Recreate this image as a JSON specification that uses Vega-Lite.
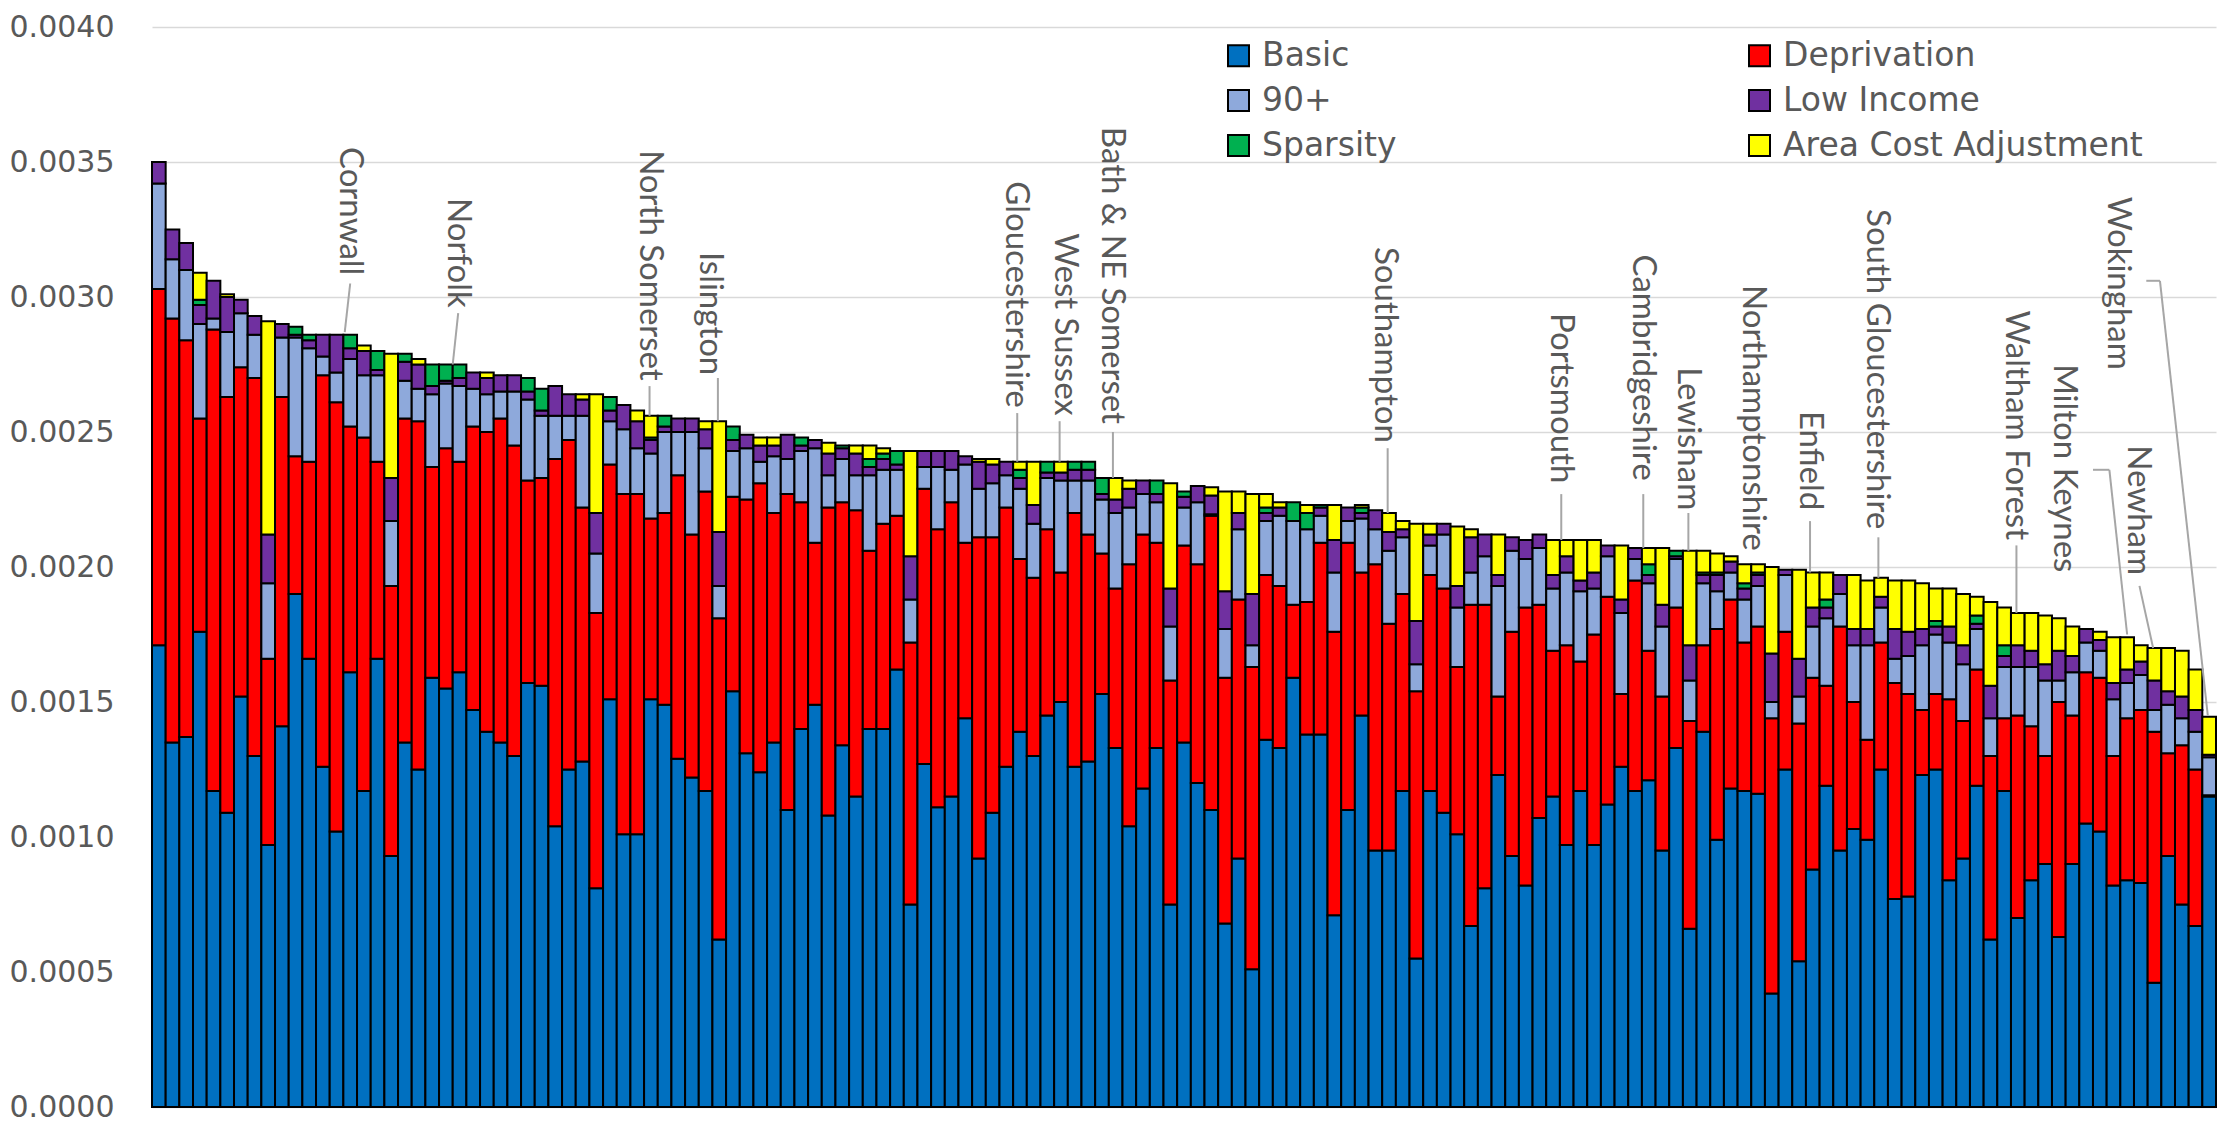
{
"$schema":"https://vega.github.io/schema/vega-lite/v6.json",
"width":2064,"height":1080,"autosize":{"type":"none"},
"padding":{"left":152,"top":27,"right":8,"bottom":22},
"background":"white",
"config":{"view":{"stroke":null},"font":"Lato"},
"datasets":{
"comp":[{"k":"b","o":1,"name":"Basic"},{"k":"d","o":2,"name":"Deprivation"},{"k":"n","o":3,"name":"90+"},{"k":"l","o":4,"name":"Low Income"},{"k":"s","o":5,"name":"Sparsity"},{"k":"a","o":6,"name":"Area Cost Adjustment"}],
"bars":[
{"i":1,"b":0.00171,"d":0.00132,"n":0.00039,"l":0.00008},
{"i":2,"b":0.00135,"d":0.00157,"n":0.00022,"l":0.00011},
{"i":3,"b":0.00137,"d":0.00147,"n":0.00026,"l":0.00010},
{"i":4,"b":0.00176,"d":0.00079,"n":0.00035,"l":0.00007,"s":0.00002,"a":0.00010},
{"i":5,"b":0.00117,"d":0.00171,"n":0.00004,"l":0.00014},
{"i":6,"b":0.00109,"d":0.00154,"n":0.00024,"l":0.00013,"a":0.00001},
{"i":7,"b":0.00152,"d":0.00122,"n":0.00020,"l":0.00005},
{"i":8,"b":0.00130,"d":0.00140,"n":0.00016,"l":0.00007},
{"i":9,"b":0.00097,"d":0.00069,"n":0.00028,"l":0.00018,"a":0.00079},
{"i":10,"b":0.00141,"d":0.00122,"n":0.00022,"l":0.00005},
{"i":11,"b":0.00190,"d":0.00051,"n":0.00044,"l":0.00001,"s":0.00003},
{"i":12,"b":0.00166,"d":0.00073,"n":0.00042,"l":0.00003,"s":0.00002},
{"i":13,"b":0.00126,"d":0.00145,"n":0.00007,"l":0.00008},
{"i":14,"b":0.00102,"d":0.00159,"n":0.00011,"l":0.00014},
{"i":15,"b":0.00161,"d":0.00091,"n":0.00025,"l":0.00004,"s":0.00005},
{"i":16,"b":0.00117,"d":0.00131,"n":0.00023,"l":0.00009,"a":0.00002},
{"i":17,"b":0.00166,"d":0.00073,"n":0.00032,"l":0.00002,"s":0.00007},
{"i":18,"b":0.00093,"d":0.00100,"n":0.00024,"l":0.00016,"a":0.00046},
{"i":19,"b":0.00135,"d":0.00120,"n":0.00014,"l":0.00007,"s":0.00003},
{"i":20,"b":0.00125,"d":0.00129,"n":0.00012,"l":0.00009,"a":0.00002},
{"i":21,"b":0.00159,"d":0.00078,"n":0.00027,"l":0.00003,"s":0.00008},
{"i":22,"b":0.00155,"d":0.00089,"n":0.00024,"l":0.00001,"s":0.00006},
{"i":23,"b":0.00161,"d":0.00078,"n":0.00028,"l":0.00003,"s":0.00005},
{"i":24,"b":0.00147,"d":0.00105,"n":0.00014,"l":0.00006},
{"i":25,"b":0.00139,"d":0.00111,"n":0.00014,"l":0.00006,"a":0.00002},
{"i":26,"b":0.00135,"d":0.00120,"n":0.00010,"l":0.00006},
{"i":27,"b":0.00130,"d":0.00115,"n":0.00020,"l":0.00006},
{"i":28,"b":0.00157,"d":0.00075,"n":0.00030,"l":0.00003,"s":0.00005},
{"i":29,"b":0.00156,"d":0.00077,"n":0.00023,"l":0.00002,"s":0.00008},
{"i":30,"b":0.00104,"d":0.00136,"n":0.00016,"l":0.00011},
{"i":31,"b":0.00125,"d":0.00122,"n":0.00009,"l":0.00008},
{"i":32,"b":0.00128,"d":0.00094,"n":0.00034,"l":0.00006,"a":0.00002},
{"i":33,"b":0.00081,"d":0.00102,"n":0.00022,"l":0.00015,"a":0.00044},
{"i":34,"b":0.00151,"d":0.00087,"n":0.00016,"l":0.00004,"s":0.00005},
{"i":35,"b":0.00101,"d":0.00126,"n":0.00024,"l":0.00009},
{"i":36,"b":0.00101,"d":0.00126,"n":0.00017,"l":0.00010,"a":0.00004},
{"i":37,"b":0.00151,"d":0.00067,"n":0.00024,"l":0.00005,"s":0.00001,"a":0.00008},
{"i":38,"b":0.00149,"d":0.00071,"n":0.00030,"l":0.00002,"s":0.00004},
{"i":39,"b":0.00129,"d":0.00105,"n":0.00016,"l":0.00005},
{"i":40,"b":0.00122,"d":0.00090,"n":0.00038,"l":0.00005},
{"i":41,"b":0.00117,"d":0.00111,"n":0.00016,"l":0.00007,"a":0.00003},
{"i":42,"b":0.00062,"d":0.00119,"n":0.00012,"l":0.00020,"a":0.00041},
{"i":43,"b":0.00154,"d":0.00072,"n":0.00017,"l":0.00004,"s":0.00005},
{"i":44,"b":0.00131,"d":0.00094,"n":0.00019,"l":0.00005},
{"i":45,"b":0.00124,"d":0.00107,"n":0.00008,"l":0.00006,"a":0.00003},
{"i":46,"b":0.00135,"d":0.00085,"n":0.00021,"l":0.00004,"a":0.00003},
{"i":47,"b":0.00110,"d":0.00117,"n":0.00013,"l":0.00009},
{"i":48,"b":0.00140,"d":0.00084,"n":0.00019,"l":0.00002,"s":0.00003},
{"i":49,"b":0.00149,"d":0.00060,"n":0.00035,"l":0.00003},
{"i":50,"b":0.00108,"d":0.00114,"n":0.00012,"l":0.00008,"a":0.00004},
{"i":51,"b":0.00134,"d":0.00090,"n":0.00016,"l":0.00004,"s":0.00001},
{"i":52,"b":0.00115,"d":0.00106,"n":0.00013,"l":0.00008,"a":0.00003},
{"i":53,"b":0.00140,"d":0.00066,"n":0.00028,"l":0.00003,"s":0.00003,"a":0.00005},
{"i":54,"b":0.00140,"d":0.00076,"n":0.00020,"l":0.00004,"s":0.00002,"a":0.00002},
{"i":55,"b":0.00162,"d":0.00057,"n":0.00017,"l":0.00002,"s":0.00005},
{"i":56,"b":0.00075,"d":0.00097,"n":0.00016,"l":0.00016,"a":0.00039},
{"i":57,"b":0.00127,"d":0.00102,"n":0.00008,"l":0.00006},
{"i":58,"b":0.00111,"d":0.00103,"n":0.00023,"l":0.00006},
{"i":59,"b":0.00115,"d":0.00109,"n":0.00012,"l":0.00007},
{"i":60,"b":0.00144,"d":0.00065,"n":0.00029,"l":0.00003},
{"i":61,"b":0.00092,"d":0.00119,"n":0.00018,"l":0.00010,"a":0.00001},
{"i":62,"b":0.00109,"d":0.00102,"n":0.00020,"l":0.00007,"a":0.00002},
{"i":63,"b":0.00126,"d":0.00096,"n":0.00012,"l":0.00005},
{"i":64,"b":0.00139,"d":0.00064,"n":0.00026,"l":0.00004,"s":0.00003,"a":0.00003},
{"i":65,"b":0.00130,"d":0.00066,"n":0.00020,"l":0.00007,"a":0.00016},
{"i":66,"b":0.00145,"d":0.00069,"n":0.00019,"l":0.00002,"s":0.00004},
{"i":67,"b":0.00150,"d":0.00048,"n":0.00034,"l":0.00003,"a":0.00004},
{"i":68,"b":0.00126,"d":0.00094,"n":0.00012,"l":0.00004,"s":0.00003},
{"i":69,"b":0.00128,"d":0.00084,"n":0.00020,"l":0.00004,"s":0.00003},
{"i":70,"b":0.00153,"d":0.00052,"n":0.00020,"l":0.00002,"s":0.00006},
{"i":71,"b":0.00133,"d":0.00059,"n":0.00028,"l":0.00005,"a":0.00008},
{"i":72,"b":0.00104,"d":0.00097,"n":0.00021,"l":0.00007,"a":0.00003},
{"i":73,"b":0.00118,"d":0.00094,"n":0.00015,"l":0.00005},
{"i":74,"b":0.00133,"d":0.00076,"n":0.00015,"l":0.00003,"s":0.00005},
{"i":75,"b":0.00075,"d":0.00083,"n":0.00020,"l":0.00014,"a":0.00039},
{"i":76,"b":0.00135,"d":0.00073,"n":0.00014,"l":0.00004,"s":0.00002},
{"i":77,"b":0.00120,"d":0.00081,"n":0.00023,"l":0.00006},
{"i":78,"b":0.00110,"d":0.00109,"n":0.000005,"l":0.00007,"a":0.00003},
{"i":79,"b":0.00068,"d":0.00091,"n":0.00018,"l":0.00014,"a":0.00037},
{"i":80,"b":0.00092,"d":0.00096,"n":0.00026,"l":0.00006,"a":0.00008},
{"i":81,"b":0.00051,"d":0.00112,"n":0.00008,"l":0.00019,"a":0.00037},
{"i":82,"b":0.00136,"d":0.00061,"n":0.00020,"l":0.00003,"s":0.00002,"a":0.00005},
{"i":83,"b":0.00133,"d":0.00060,"n":0.00026,"l":0.00003,"a":0.00002},
{"i":84,"b":0.00159,"d":0.00027,"n":0.00031,"s":0.00007},
{"i":85,"b":0.00138,"d":0.00049,"n":0.00027,"s":0.00006,"a":0.00003},
{"i":86,"b":0.00138,"d":0.00071,"n":0.00010,"l":0.00003,"s":0.00001},
{"i":87,"b":0.00071,"d":0.00105,"n":0.00022,"l":0.00012,"a":0.00013},
{"i":88,"b":0.00110,"d":0.00099,"n":0.00008,"l":0.00005},
{"i":89,"b":0.00145,"d":0.00053,"n":0.00020,"l":0.00002,"s":0.00002,"a":0.00001},
{"i":90,"b":0.00095,"d":0.00106,"n":0.00013,"l":0.00007},
{"i":91,"b":0.00095,"d":0.00084,"n":0.00027,"l":0.00007,"a":0.00007},
{"i":92,"b":0.00117,"d":0.00073,"n":0.00021,"l":0.00003,"a":0.00003},
{"i":93,"b":0.00055,"d":0.00099,"n":0.00010,"l":0.00016,"a":0.00036},
{"i":94,"b":0.00117,"d":0.00080,"n":0.00011,"l":0.00004,"a":0.00004},
{"i":95,"b":0.00109,"d":0.00083,"n":0.00020,"l":0.00004},
{"i":96,"b":0.00101,"d":0.00062,"n":0.00022,"l":0.00008,"a":0.00022},
{"i":97,"b":0.00067,"d":0.00119,"n":0.00012,"l":0.00013,"a":0.00003},
{"i":98,"b":0.00081,"d":0.00105,"n":0.00018,"l":0.00008},
{"i":99,"b":0.00123,"d":0.00029,"n":0.00041,"l":0.00004,"a":0.00015},
{"i":100,"b":0.00093,"d":0.00083,"n":0.00030,"l":0.00005},
{"i":101,"b":0.00082,"d":0.00103,"n":0.00018,"l":0.00007},
{"i":102,"b":0.00107,"d":0.00079,"n":0.00021,"l":0.00005},
{"i":103,"b":0.00115,"d":0.00054,"n":0.00023,"l":0.00005,"a":0.00013},
{"i":104,"b":0.00097,"d":0.00074,"n":0.00027,"l":0.00006,"a":0.00006},
{"i":105,"b":0.00117,"d":0.00048,"n":0.00026,"l":0.00004,"a":0.00015},
{"i":106,"b":0.00097,"d":0.00078,"n":0.00017,"l":0.00006,"a":0.00012},
{"i":107,"b":0.00112,"d":0.00077,"n":0.00015,"l":0.00004},
{"i":108,"b":0.00126,"d":0.00027,"n":0.00030,"l":0.00005,"a":0.00020},
{"i":109,"b":0.00117,"d":0.00078,"n":0.00008,"l":0.00004},
{"i":110,"b":0.00121,"d":0.00048,"n":0.00025,"l":0.00003,"s":0.00004,"a":0.00006},
{"i":111,"b":0.00095,"d":0.00057,"n":0.00026,"l":0.00008,"a":0.00021},
{"i":112,"b":0.00133,"d":0.00052,"n":0.00018,"l":0.00001,"s":0.00002},
{"i":113,"b":0.00066,"d":0.00077,"n":0.00015,"l":0.00013,"a":0.00035},
{"i":114,"b":0.00139,"d":0.00032,"n":0.00023,"l":0.00003,"s":0.00001,"a":0.00008},
{"i":115,"b":0.00099,"d":0.00078,"n":0.00014,"l":0.00006,"s":0.00001,"a":0.00007},
{"i":116,"b":0.00118,"d":0.00070,"n":0.00010,"l":0.00004,"a":0.00002},
{"i":117,"b":0.00117,"d":0.00055,"n":0.00016,"l":0.00004,"s":0.00002,"a":0.00007},
{"i":118,"b":0.00116,"d":0.00062,"n":0.00015,"l":0.00004,"s":0.00001,"a":0.00003},
{"i":119,"b":0.00042,"d":0.00102,"n":0.00006,"l":0.00018,"a":0.00032},
{"i":120,"b":0.00125,"d":0.00051,"n":0.00021,"l":0.00002},
{"i":121,"b":0.00054,"d":0.00088,"n":0.00010,"l":0.00014,"a":0.00033},
{"i":122,"b":0.00088,"d":0.00071,"n":0.00019,"l":0.00007,"a":0.00013},
{"i":123,"b":0.00119,"d":0.00037,"n":0.00025,"l":0.00004,"s":0.00003,"a":0.00010},
{"i":124,"b":0.00095,"d":0.00083,"n":0.00012,"l":0.00007},
{"i":125,"b":0.00103,"d":0.00047,"n":0.00021,"l":0.00006,"a":0.00020},
{"i":126,"b":0.00099,"d":0.00037,"n":0.00035,"l":0.00006,"a":0.00018},
{"i":127,"b":0.00125,"d":0.00047,"n":0.00013,"l":0.00004,"a":0.00007},
{"i":128,"b":0.00077,"d":0.00080,"n":0.00009,"l":0.00011,"a":0.00018},
{"i":129,"b":0.00078,"d":0.00075,"n":0.00014,"l":0.00009,"a":0.00019},
{"i":130,"b":0.00123,"d":0.00024,"n":0.00024,"l":0.00006,"a":0.00017},
{"i":131,"b":0.00125,"d":0.00028,"n":0.00022,"l":0.00003,"s":0.00002,"a":0.00012},
{"i":132,"b":0.00084,"d":0.00067,"n":0.00021,"l":0.00006,"a":0.00014},
{"i":133,"b":0.00092,"d":0.00051,"n":0.00021,"l":0.00007,"a":0.00019},
{"i":134,"b":0.00119,"d":0.00043,"n":0.00015,"l":0.00002,"s":0.00003,"a":0.00007},
{"i":135,"b":0.00062,"d":0.00068,"n":0.00014,"l":0.00012,"a":0.00031},
{"i":136,"b":0.00117,"d":0.00027,"n":0.00019,"l":0.00004,"s":0.00004,"a":0.00014},
{"i":137,"b":0.00070,"d":0.00075,"n":0.00018,"l":0.00008,"a":0.00012},
{"i":138,"b":0.00084,"d":0.00057,"n":0.00022,"l":0.00006,"a":0.00014},
{"i":139,"b":0.00090,"d":0.00040,"n":0.00028,"l":0.00006,"a":0.00018},
{"i":140,"b":0.00063,"d":0.00087,"n":0.00008,"l":0.00011,"a":0.00012},
{"i":141,"b":0.00090,"d":0.00055,"n":0.00016,"l":0.00006,"a":0.00011},
{"i":142,"b":0.00105,"d":0.00056,"n":0.00011,"l":0.00005},
{"i":143,"b":0.00102,"d":0.00057,"n":0.00010,"l":0.00004,"a":0.00003},
{"i":144,"b":0.00082,"d":0.00048,"n":0.00021,"l":0.00006,"a":0.00017},
{"i":145,"b":0.00084,"d":0.00060,"n":0.00013,"l":0.00005,"a":0.00012},
{"i":146,"b":0.00083,"d":0.00064,"n":0.00013,"l":0.00005,"a":0.00006},
{"i":147,"b":0.00046,"d":0.00093,"n":0.00008,"l":0.00011,"a":0.00012},
{"i":148,"b":0.00093,"d":0.00038,"n":0.00018,"l":0.00005,"a":0.00016},
{"i":149,"b":0.00075,"d":0.00059,"n":0.00010,"l":0.00008,"a":0.00017},
{"i":150,"b":0.00067,"d":0.00058,"n":0.00014,"l":0.00008,"a":0.00015},
{"i":151,"b":0.00115,"d":0.000005,"n":0.00014,"l":0.00001,"a":0.00014}
],
"labels":[
{"t":"Cornwall","x":15.0,"y":0.00308},
{"t":"Norfolk","x":22.9,"y":0.00296},
{"t":"North Somerset","x":36.9,"y":0.00269},
{"t":"Islington","x":41.3,"y":0.00271},
{"t":"Gloucestershire","x":63.7,"y":0.00259},
{"t":"West Sussex","x":67.3,"y":0.00256},
{"t":"Bath & NE Somerset","x":70.7,"y":0.00253},
{"t":"Southampton","x":90.7,"y":0.00246},
{"t":"Portsmouth","x":103.6,"y":0.00231},
{"t":"Cambridgeshire","x":109.6,"y":0.00232},
{"t":"Lewisham","x":112.9,"y":0.00221},
{"t":"Northamptonshire","x":117.6,"y":0.00206},
{"t":"Enfield","x":121.8,"y":0.00221},
{"t":"South Gloucestershire","x":126.7,"y":0.00214},
{"t":"Waltham Forest","x":136.9,"y":0.00210},
{"t":"Milton Keynes","x":140.4,"y":0.00198},
{"t":"Newham","x":145.8,"y":0.00197},
{"t":"Wokingham","x":144.3,"y":0.00273}
],
"leaders":[
{"x":15.0,"y":0.00305,"x2":14.6,"y2":0.00287},
{"x":22.9,"y":0.00294,"x2":22.5,"y2":0.00275},
{"x":36.9,"y":0.00267,"x2":36.9,"y2":0.00256},
{"x":41.9,"y":0.00270,"x2":41.9,"y2":0.00254},
{"x":63.8,"y":0.00257,"x2":63.8,"y2":0.00239},
{"x":66.9,"y":0.00254,"x2":66.9,"y2":0.00239},
{"x":70.8,"y":0.00250,"x2":70.8,"y2":0.00233},
{"x":90.9,"y":0.00244,"x2":90.9,"y2":0.00220},
{"x":103.6,"y":0.00227,"x2":103.6,"y2":0.00210},
{"x":109.6,"y":0.00227,"x2":109.6,"y2":0.00207},
{"x":112.9,"y":0.00220,"x2":112.9,"y2":0.00206},
{"x":121.8,"y":0.00217,"x2":121.8,"y2":0.00198},
{"x":126.8,"y":0.00211,"x2":126.8,"y2":0.00196},
{"x":136.9,"y":0.00208,"x2":136.9,"y2":0.00183},
{"x":142.5,"y":0.00236,"x2":143.7,"y2":0.00236},
{"x":143.7,"y":0.00236,"x2":145.0,"y2":0.00175},
{"x":145.9,"y":0.00193,"x2":146.9,"y2":0.00170},
{"x":146.4,"y":0.00306,"x2":147.4,"y2":0.00306},
{"x":147.4,"y":0.00306,"x2":150.9,"y2":0.00145}
]
},
"resolve":{"scale":{"x":"independent"}},
"layer":[
{"data":{"name":"bars"},
"transform":[
{"fold":["b","d","n","l","s","a"],"as":["k","v"]},
{"filter":"datum.v > 0"},
{"lookup":"k","from":{"data":{"name":"comp"},"key":"k","fields":["o","name"]}}
],
"mark":{"type":"bar","stroke":"black","strokeWidth":2},
"encoding":{
"x":{"field":"i","type":"ordinal","scale":{"paddingInner":0,"paddingOuter":0},"axis":null},
"y":{"field":"v","type":"quantitative","stack":"zero","scale":{"domain":[0,0.004],"nice":false},
"axis":{"values":[0,0.0005,0.001,0.0015,0.002,0.0025,0.003,0.0035,0.004],"format":".4f","title":null,"domain":false,"ticks":false,"labelFontSize":30,"labelColor":"#595959","labelPadding":38,"gridColor":"#D9D9D9","gridWidth":1.5,"labelFont":"DejaVu Sans"}},
"color":{"field":"name","type":"nominal",
"scale":{"domain":["Basic","Deprivation","90+","Low Income","Sparsity","Area Cost Adjustment"],"range":["#0070C0","#FF0000","#8EA9DB","#7030A0","#00B050","#FFFF00"]},
"legend":{"orient":"none","legendX":1070,"legendY":12,"direction":"horizontal","columns":2,"columnPadding":346,"rowPadding":11,"title":null,"symbolType":"square","symbolSize":441,"symbolStrokeColor":"black","symbolStrokeWidth":2,"labelFontSize":33,"labelColor":"#595959","labelFont":"DejaVu Sans","labelOffset":7,"labelLimit":600,"symbolOpacity":1}},
"order":{"field":"o","type":"quantitative"}
}},
{"data":{"name":"leaders"},
"mark":{"type":"rule","color":"#A6A6A6","strokeWidth":2},
"encoding":{
"x":{"field":"x","type":"quantitative","scale":{"domain":[0.5,151.5],"nice":false,"zero":false},"axis":null},
"x2":{"field":"x2"},
"y":{"field":"y","type":"quantitative"},
"y2":{"field":"y2"}
}},
{"data":{"name":"labels"},
"mark":{"type":"text","angle":90,"align":"right","baseline":"middle","fontSize":33,"color":"#595959","font":"Lato"},
"encoding":{
"x":{"field":"x","type":"quantitative","scale":{"domain":[0.5,151.5],"nice":false,"zero":false},"axis":null},
"y":{"field":"y","type":"quantitative"},
"text":{"field":"t"}
}}
]
}
